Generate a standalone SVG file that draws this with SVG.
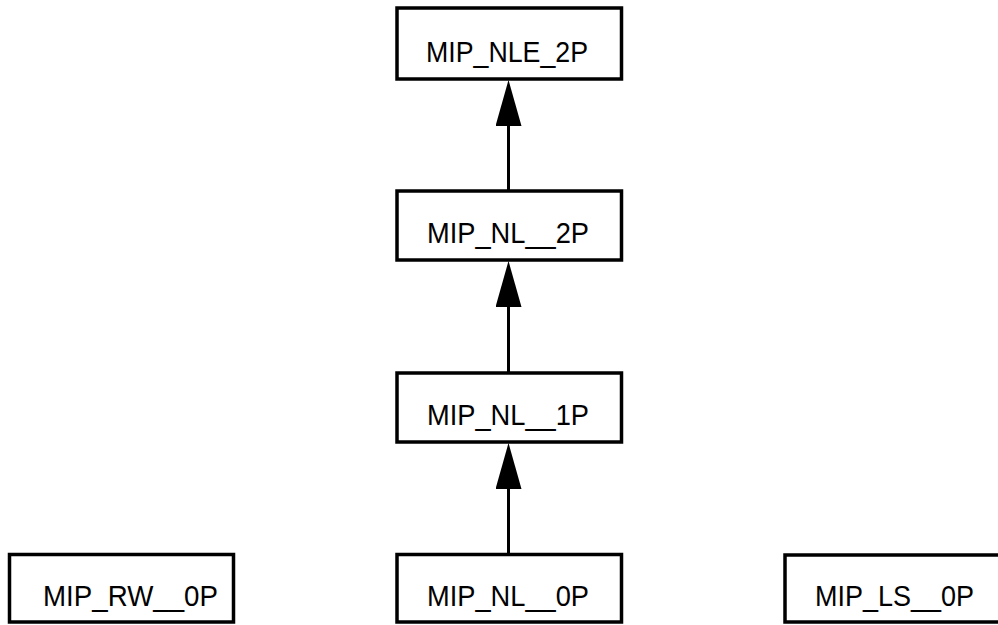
<svg xmlns="http://www.w3.org/2000/svg" width="998" height="625" viewBox="0 0 998 625">
<style>
.box{fill:#fff;stroke:#000;stroke-width:3.5}
.lbl{font-family:"Liberation Sans",Arial,sans-serif;font-size:30px;fill:#000}
.edge{stroke:#000;stroke-width:3;fill:none}
</style>
<defs>
<marker id="ah" markerUnits="userSpaceOnUse" markerWidth="48" markerHeight="28" refX="0" refY="13" orient="auto" viewBox="0 0 48 28">
<path d="M0,0 L46,13 L0,26 Z" fill="#000"/>
</marker>
</defs>
<rect width="998" height="625" fill="#fff"/>
<g id="connectors">
<line class="edge" x1="508.5" y1="191" x2="508.5" y2="126" marker-end="url(#ah)"/>
<line class="edge" x1="508.5" y1="373" x2="508.5" y2="307" marker-end="url(#ah)"/>
<line class="edge" x1="508.5" y1="554" x2="508.5" y2="489" marker-end="url(#ah)"/>
</g>
<g id="MIP_NLE_2P">
<rect class="box" x="397" y="8" width="224.5" height="71"/>
<text class="lbl" x="426" y="62" textLength="162" lengthAdjust="spacingAndGlyphs">MIP_NLE_2P</text>
</g>
<g id="MIP_NL__2P">
<rect class="box" x="397" y="191" width="224.5" height="69"/>
<text class="lbl" x="427" y="243" textLength="162" lengthAdjust="spacingAndGlyphs">MIP_NL__2P</text>
</g>
<g id="MIP_NL__1P">
<rect class="box" x="397" y="373" width="224.5" height="69"/>
<text class="lbl" x="427" y="425" textLength="162" lengthAdjust="spacingAndGlyphs">MIP_NL__1P</text>
</g>
<g id="MIP_NL__0P">
<rect class="box" x="397" y="554.5" width="224.5" height="67.5"/>
<text class="lbl" x="427" y="606" textLength="162" lengthAdjust="spacingAndGlyphs">MIP_NL__0P</text>
</g>
<g id="MIP_RW__0P">
<rect class="box" x="9.5" y="554.5" width="224" height="67.5"/>
<text class="lbl" x="43" y="606" textLength="175" lengthAdjust="spacingAndGlyphs">MIP_RW__0P</text>
</g>
<g id="MIP_LS__0P">
<rect class="box" x="785" y="555" width="224" height="67"/>
<text class="lbl" x="815" y="606" textLength="159" lengthAdjust="spacingAndGlyphs">MIP_LS__0P</text>
</g>
</svg>
